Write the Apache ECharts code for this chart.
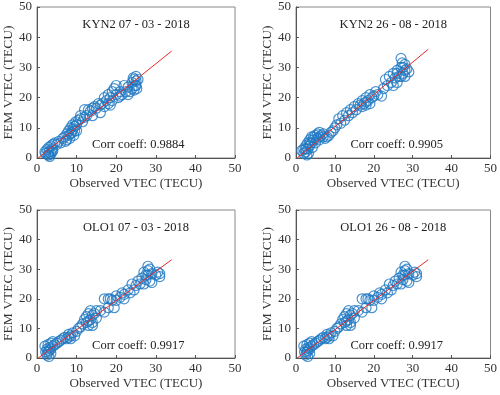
<!DOCTYPE html>
<html><head><meta charset="utf-8">
<script src="https://cdn.jsdelivr.net/npm/echarts@6/dist/echarts.min.js"></script>
<style>html,body{margin:0;padding:0;background:#fff}#c{width:500px;height:395px}</style>
</head><body><div id="c"></div>
<script>
const panelTitles = ["KYN2 07 - 03 - 2018", "KYN2 26 - 08 - 2018", "OLO1 07 - 03 - 2018", "OLO1 26 - 08 - 2018"];
const corrTexts = ["Corr coeff: 0.9884", "Corr coeff: 0.9905", "Corr coeff: 0.9917", "Corr coeff: 0.9917"];
const axisTicks = [0, 10, 20, 30, 40, 50];
const xName = "Observed VTEC (TECU)";
const yName = "FEM VTEC (TECU)";

const kyn2Mar = [[2,2],[2.2,1.5],[2.5,2.8],[2.8,1],[3,3.5],[3,2],[3.2,0.5],[3.5,1.5],[3.5,4],[3.8,3],[4,2.5],[4,4.5],[4.5,5],[5,4.5],[5.5,5.5],[6,5],[6.5,6.5],[7,7],[7.2,5.5],[7.5,6],[7.5,8],[8,7.5],[8,9],[8.3,6.5],[8.5,10],[8.8,8.5],[9,11],[9,9.5],[9.3,7.5],[9.5,10.5],[9.8,12],[10,9],[10,11],[10.5,12.5],[11,13],[11,14],[11.5,12],[12,16],[12.5,14],[13,16],[13.5,15.5],[14,14],[14.5,17],[15,16.5],[15.5,18],[16,15],[16,17.5],[16.5,18],[17,17],[17,20],[17.5,19],[18,18],[18,21],[18.5,20],[19,22],[19,19],[19.5,23],[20,21],[20,24],[20.5,20],[21,22],[21.5,21],[22,24],[22.5,22],[23,21],[23,23.5],[23.5,22],[24,23],[24,25],[24.3,26.5],[24.5,22.5],[24.8,24],[25,27],[25,25.5],[25.2,23],[25.5,26],[3,1],[3.8,2],[8.5,8],[9.5,9],[12,13.5],[14,16.5],[18.5,17.5],[21,20.5],[24.5,26],[25,24]];
const kyn2Aug = [[1.5,2.5],[2,3],[2,1.5],[2.5,4],[2.5,2],[2.8,1],[3,5],[3,3],[3.2,1.5],[3.5,6],[3.5,4],[4,5],[4,7],[4.2,3.5],[4.5,6],[5,7.5],[5,5],[5.5,6.5],[6,8.5],[6,6],[6.5,7.5],[7,8],[7.5,6.5],[8,7],[8.5,7.5],[9,8.5],[9.5,9],[10,10],[10.5,11],[11,13],[11.5,11.5],[12,14],[12.5,12.5],[13,15],[13.5,14],[14,16],[14.5,15],[15,17],[15.5,16],[16,18],[16.5,17.5],[17,17],[17,19],[17.5,18],[18,20],[18,17.5],[18.5,19],[19,21],[19,18],[19.5,20],[20,20.5],[20.5,22],[21,21],[22,20.5],[22.5,23],[23,26],[23.5,24],[24,27],[24.5,25],[25,28],[25,24],[25.5,26.5],[26,29],[26,25],[26.5,27],[27,33],[27,30],[27,27],[27.3,31.5],[27.5,28],[28,29],[28,31],[28.5,29.5],[29,28.5],[2.5,3],[3.5,5],[4.5,7],[5.5,8],[6,7],[7,7],[18,18.5],[26,28],[27.5,30],[28,27]];
const olo1Mar = [[2,4],[2.2,2],[2.5,3],[2.5,1],[2.8,4.5],[3,2.5],[3,0.5],[3.2,3.5],[3.5,5],[3.5,1.5],[4,4],[4,5.5],[4.5,4.5],[5,5],[5.5,5.5],[6,6],[6.5,6.5],[7,7],[7.5,6.5],[8,8],[8,7],[8.5,7.5],[9,8.5],[9.5,7.5],[10,9],[10.5,10],[11,10.5],[11.5,11.5],[12,13],[12.5,12],[12.5,14],[13,15],[13,11],[13.5,16],[13.5,13],[14,12],[14,14.5],[14.5,15],[15,13.5],[15,16],[16,16],[17,20],[17,15.5],[18,17],[18.5,20],[19,19.5],[19.5,17],[20,19.5],[20,21],[21,20.5],[21.5,22],[22,20],[22,21.5],[23,23],[23.5,22],[24,25],[24.5,23],[25,24.5],[25.5,26],[26,25],[26.5,27],[27,29],[27,25],[27.5,26.5],[28,31],[28,28],[28.5,30],[28.5,26],[29,28.5],[29,25.5],[30,28],[30.5,29],[31,28.5],[31,27.5],[2.8,2],[3.5,3],[8.5,6.5],[13,12.5],[14,11],[18,20],[28,29.5],[27.5,28]];
const olo1Aug = [[2,4],[2.2,2],[2.5,3],[2.5,1],[2.8,4.5],[3,2.5],[3,0.5],[3.2,3.5],[3.5,5],[3.5,1.5],[4,4],[4,5.5],[4.5,4.5],[5,5],[5.5,5.5],[6,6],[6.5,6.5],[7,7],[7.5,6.5],[8,8],[8,7],[8.5,7.5],[9,8.5],[9.5,7.5],[10,9],[10.5,10],[11,10.5],[11.5,11.5],[12,13],[12.5,12],[12.5,14],[13,15],[13,11],[13.5,16],[13.5,13],[14,12],[14,14.5],[14.5,15],[15,13.5],[15,16],[16,16],[17,20],[17,15.5],[18,17],[18.5,20],[19,19.5],[19.5,17],[20,19.5],[20,21],[21,20.5],[21.5,22],[22,20],[22,21.5],[23,23],[23.5,22],[24,25],[24.5,23],[25,24.5],[25.5,26],[26,25],[26.5,27],[27,29],[27,25],[27.5,26.5],[28,31],[28,28],[28.5,30],[28.5,26],[29,28.5],[29,25.5],[30,28],[30.5,29],[31,28.5],[31,27.5],[2.8,2],[3.5,3],[8.5,6.5],[13,12.5],[14,11],[18,20],[28,29.5],[27.5,28]];
const fitLines = [[[0.3,0],[34,35.4]], [[0.3,0],[34,36]], [[0.3,0],[34,33.2]], [[0.3,0],[34,33.2]]];
const scatterData = [kyn2Mar, kyn2Aug, olo1Mar, olo1Aug];
const corrPos = [[13.9,4.3],[14,4.3],[13.9,4.3],[14,4.3]];

const grids = [
  {left: 37, top: 7, width: 198, height: 151},
  {left: 296, top: 7, width: 199, height: 151},
  {left: 37, top: 210, width: 198, height: 148},
  {left: 296, top: 210, width: 199, height: 148}
];
const font = 'Liberation Serif';
const blue = '#1f78c2';
const axisColor = '#555';

const chart = echarts.init(document.getElementById('c'), null, {renderer: 'canvas'});
const option = {
  animation: false,
  backgroundColor: '#fff',
  textStyle: {fontFamily: font},
  grid: grids.map(g => Object.assign({show: true, borderColor: '#888', borderWidth: 1, backgroundColor: 'transparent'}, g)),
  xAxis: grids.map((g, i) => ({
    gridIndex: i, type: 'value', min: axisTicks[0], max: axisTicks[axisTicks.length-1], interval: 10,
    name: xName, nameLocation: 'middle', nameGap: 19,
    nameTextStyle: {fontFamily: font, fontSize: 13, color: '#333'},
    axisLine: {show: true, lineStyle: {color: axisColor}},
    axisTick: {show: true, inside: true, length: 3, lineStyle: {color: axisColor}},
    axisLabel: {fontFamily: font, fontSize: 13, color: '#333', margin: 4},
    splitLine: {show: false}
  })),
  yAxis: grids.map((g, i) => ({
    gridIndex: i, type: 'value', min: axisTicks[0], max: axisTicks[axisTicks.length-1], interval: 10,
    name: yName, nameLocation: 'middle', nameGap: 22,
    nameTextStyle: {fontFamily: font, fontSize: 13.5, color: '#333'},
    axisLine: {show: true, lineStyle: {color: axisColor}},
    axisTick: {show: true, inside: true, length: 3, lineStyle: {color: axisColor}},
    axisLabel: {fontFamily: font, fontSize: 13, color: '#333', margin: 5},
    splitLine: {show: false}
  })),
  series: []
};
scatterData.forEach((d, i) => {
  option.series.push({
    type: 'scatter', xAxisIndex: i, yAxisIndex: i, data: d, symbol: 'circle', symbolSize: 10,
    itemStyle: {color: 'rgba(0,0,0,0)', borderColor: blue, borderWidth: 1.2}
  });
  option.series.push({
    type: 'line', xAxisIndex: i, yAxisIndex: i, data: fitLines[i], symbol: 'none',
    lineStyle: {color: '#e8282a', width: 1}, z: 5,
    markPoint: {
      symbol: 'circle', symbolSize: 0,
      data: [
        {coord: [25, 44], value: panelTitles[i], label: {show: true, formatter: panelTitles[i], fontFamily: font, fontSize: 12.5, color: '#222', position: 'inside'}},
        {coord: corrPos[i], value: corrTexts[i], label: {show: true, formatter: corrTexts[i], fontFamily: font, fontSize: 12.5, color: '#222', position: 'right', distance: 0}}
      ]
    }
  });
});
chart.setOption(option);
</script></body></html>
